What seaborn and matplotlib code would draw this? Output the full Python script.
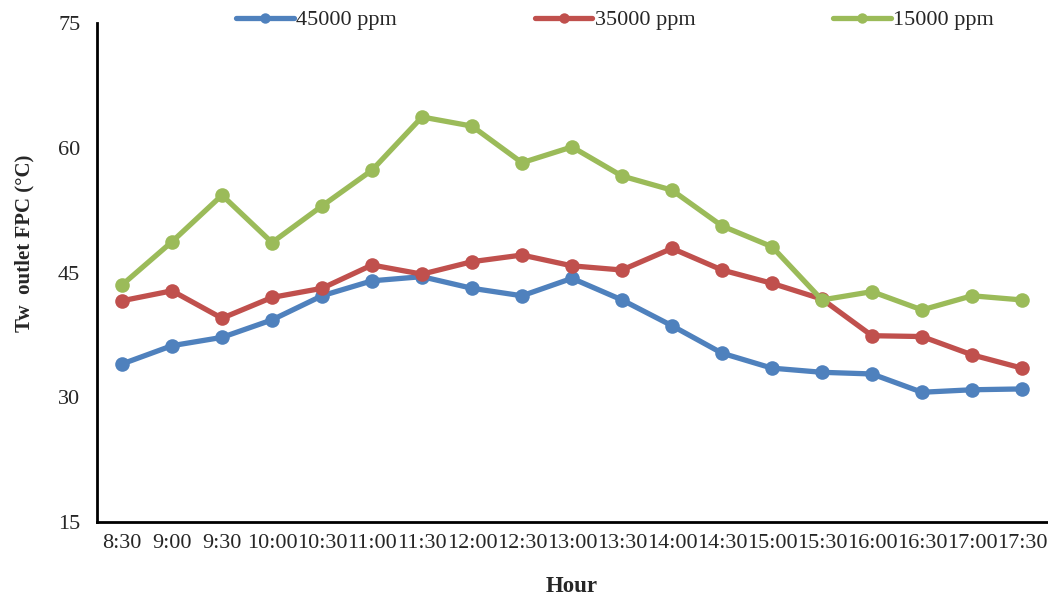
import matplotlib
matplotlib.use("Agg")
import matplotlib.pyplot as plt
import seaborn as sns
import numpy as np
import pandas as pd

hours = ["8:30", "9:00", "9:30", "10:00", "10:30", "11:00", "11:30", "12:00",
         "12:30", "13:00", "13:30", "14:00", "14:30", "15:00", "15:30", "16:00",
         "16:30", "17:00", "17:30"]

ppm_45000 = [34.0, 36.2, 37.2, 39.3, 42.2, 44.0, 44.5, 43.1, 42.2, 44.3,
             41.7, 38.6, 35.3, 33.5, 33.0, 32.8, 30.6, 30.9, 31.0]
ppm_35000 = [41.6, 42.8, 39.5, 42.0, 43.1, 45.9, 44.8, 46.3, 47.1, 45.8,
             45.3, 47.9, 45.3, 43.7, 41.8, 37.4, 37.3, 35.1, 33.5]
ppm_15000 = [43.5, 48.7, 54.3, 48.6, 53.0, 57.3, 63.7, 62.6, 58.2, 60.1,
             56.6, 54.9, 50.6, 48.1, 41.7, 42.7, 40.5, 42.2, 41.7]

series_names = ["45000 ppm", "35000 ppm", "15000 ppm"]
series_colors = ["#4F81BD", "#C0504D", "#9BBB59"]

df = pd.DataFrame({
    "pos": list(range(len(hours))) * 3,
    "value": ppm_45000 + ppm_35000 + ppm_15000,
    "series": sum([[n] * len(hours) for n in series_names], []),
})

sns.set_style("white")
plt.rcParams["font.family"] = ["Liberation Serif", "DejaVu Serif"]

fig = plt.figure(figsize=(10.48, 5.96), dpi=100)
ax = fig.add_axes([97 / 1048, 1 - 522 / 596, 950 / 1048, 499 / 596])

for name, color in zip(series_names, series_colors):
    sub = df[df["series"] == name]
    sns.lineplot(data=sub, x="pos", y="value", ax=ax, color=color,
                 linewidth=3.8, marker="o", markersize=10.5,
                 markeredgewidth=0, label=name)

ax.set_xlim(-0.5, len(hours) - 0.5)
ax.set_ylim(15, 75)
ax.set_yticks([15, 30, 45, 60, 75])
ax.set_xticks(range(len(hours)))
ax.set_xticklabels(hours)
ax.set_xticks(np.arange(-0.5, len(hours), 1.0), minor=True)
ax.tick_params(axis="x", which="major", length=0, pad=9, labelsize=16)
ax.tick_params(axis="x", which="minor", length=6, width=2, direction="out",
               color="black")
ax.tick_params(axis="y", which="major", length=6, width=2, direction="out",
               color="black", labelsize=16, pad=6)

for side in ["top", "right"]:
    ax.spines[side].set_visible(False)
for side in ["left", "bottom"]:
    ax.spines[side].set_linewidth(2)
    ax.spines[side].set_color("black")

ax.set_xlabel("Hour", fontsize=16.5, fontweight="bold")
ax.xaxis.set_label_coords(0.5, -0.108)
ax.set_ylabel("Tw  outlet FPC (°C)", fontsize=15, fontweight="bold")
ax.yaxis.set_label_coords(-0.066, 0.559)

ax.legend_.remove()
handles, labels = ax.get_legend_handles_labels()
leg = fig.legend(handles, labels, ncol=3, loc="center",
                 bbox_to_anchor=(615 / 1048, 1 - 20 / 596), frameon=False,
                 fontsize=16, handlelength=2.6, handletextpad=0.1,
                 columnspacing=6.2, borderaxespad=0, borderpad=0)
for h in leg.legend_handles:
    h.set_markersize(7.5)

fig.savefig("out.png", dpi=100)
